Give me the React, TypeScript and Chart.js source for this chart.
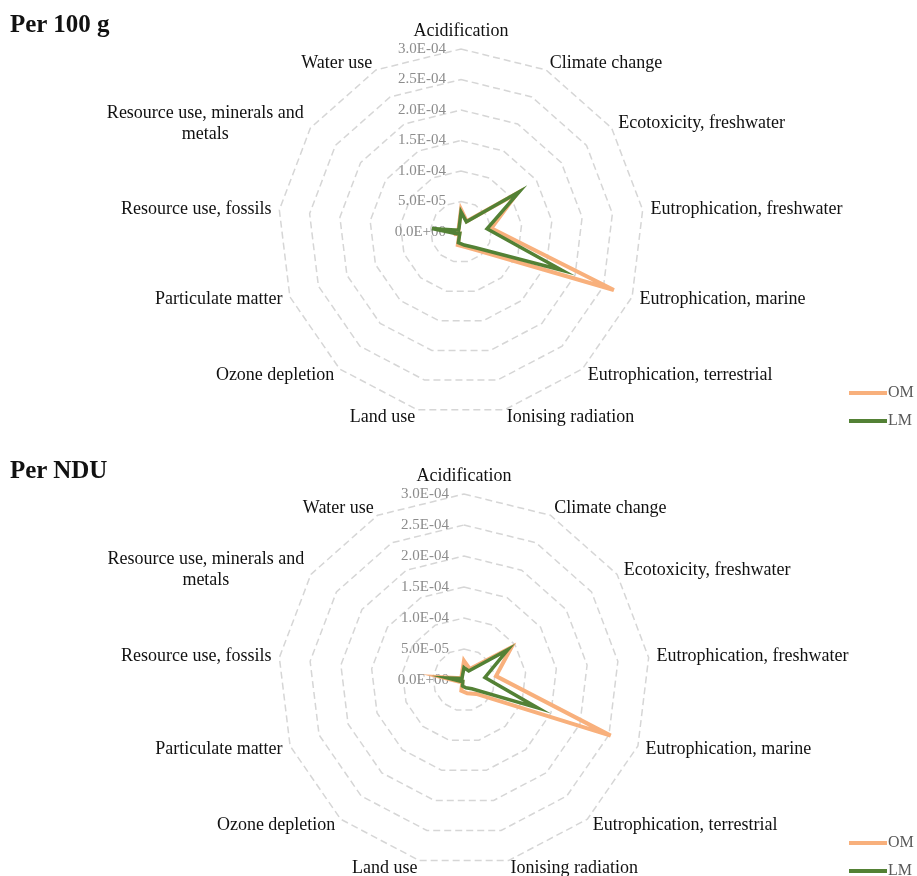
import React, { useEffect, useRef } from 'react';
import { Chart, registerables } from 'chart.js';

Chart.register(...registerables);

// ---- data ----
const categories: (string | string[])[] = [
  'Acidification',
  'Climate change',
  'Ecotoxicity, freshwater',
  'Eutrophication, freshwater',
  'Eutrophication, marine',
  'Eutrophication, terrestrial',
  'Ionising radiation',
  'Land use',
  'Ozone depletion',
  'Particulate matter',
  'Resource use, fossils',
  ['Resource use, minerals and', 'metals'],
  'Water use',
];

const seriesNames = ['OM', 'LM'];

// Per 100 g
const om100g = [3.7e-5, 2.0e-5, 1.12e-4, 5.0e-5, 2.68e-4, 4.0e-5, 2.5e-5, 2.2e-5, 4e-6, 1.0e-5, 1.4e-5, 5e-6, 8e-6];
const lm100g = [3.3e-5, 1.9e-5, 1.16e-4, 4.3e-5, 1.77e-4, 3.4e-5, 2.2e-5, 1.8e-5, 3e-6, 8e-6, 4.8e-5, 5e-6, 7e-6];

// Per NDU
const omNdu = [3.1e-5, 2.0e-5, 9.3e-5, 5.2e-5, 2.53e-4, 3.0e-5, 2.2e-5, 1.8e-5, 4e-6, 8e-6, 3.6e-5, 5e-6, 8e-6];
const lmNdu = [2.0e-5, 1.65e-5, 8.6e-5, 3.4e-5, 1.27e-4, 1.9e-5, 1.3e-5, 1.0e-5, 3e-6, 6e-6, 2.6e-5, 4e-6, 6e-6];

const axisMin = 0;
const axisMax = 3e-4;
const axisStep = 5e-5;

const titles = ['Per 100 g', 'Per NDU'];

const OM_COLOR = '#F8B07C';
const LM_COLOR = '#538135';
const SERIF = '"Liberation Serif", "Times New Roman", serif';

const fmtTick = (v: number) => {
  const [m, e] = Number(v).toExponential(1).split('e');
  const n = parseInt(e, 10);
  return `${m}E${n < 0 ? '-' : '+'}${String(Math.abs(n)).padStart(2, '0')}`;
};

const radarText = {
  id: 'radarText',
  beforeDatasetsDraw(chart: any) {
    const s = chart.scales.r;
    const ctx = chart.ctx;
    ctx.save();
    ctx.font = `15px ${SERIF}`;
    ctx.fillStyle = '#8c8c8c';
    ctx.textAlign = 'right';
    ctx.textBaseline = 'middle';
    s.ticks.forEach((t: any) => {
      const d = s.getDistanceFromCenterForValue(t.value);
      ctx.fillText(t.label, s.xCenter - 15, s.yCenter - d);
    });
    ctx.restore();
  },
  afterDraw(chart: any) {
    const s = chart.scales.r;
    const ctx = chart.ctx;
    const labels = chart.data.labels as (string | string[])[];
    const n = labels.length;
    ctx.save();
    ctx.font = `18px ${SERIF}`;
    ctx.fillStyle = '#111';
    const lh = 21;
    labels.forEach((lab, i) => {
      const p = s.getPointPosition(i, s.drawingArea + 8);
      const lines = Array.isArray(lab) ? lab : [lab];
      const angle = (360 * i) / n;
      if (i === 0) {
        ctx.textAlign = 'center';
        ctx.textBaseline = 'alphabetic';
        ctx.fillText(lines[0], p.x, p.y - 5);
        return;
      }
      const widths = lines.map((l) => ctx.measureText(l).width);
      const bw = Math.max(...widths);
      const cx = angle < 180 ? p.x + bw / 2 : p.x - bw / 2;
      ctx.textAlign = 'center';
      ctx.textBaseline = 'middle';
      lines.forEach((l, j) => {
        const y = p.y + (j - (lines.length - 1) / 2) * lh;
        ctx.fillText(l, cx, y);
      });
    });
    ctx.restore();
  },
};

function makeChart(
  canvas: HTMLCanvasElement,
  om: number[],
  lm: number[],
  padding: { top: number; bottom: number; left: number; right: number }
) {
  return new Chart(canvas, {
    type: 'radar',
    data: {
      labels: categories as any,
      datasets: [
        {
          label: seriesNames[0],
          data: om,
          borderColor: OM_COLOR,
          backgroundColor: 'transparent',
          borderWidth: 4,
          fill: false,
          order: 1,
        },
        {
          label: seriesNames[1],
          data: lm,
          borderColor: LM_COLOR,
          backgroundColor: 'transparent',
          borderWidth: 3.5,
          fill: false,
          order: 0,
        },
      ],
    },
    options: {
      responsive: false,
      animation: false,
      layout: { padding },
      elements: {
        line: { tension: 0, borderJoinStyle: 'miter' },
        point: { radius: 0, hoverRadius: 0 },
      },
      plugins: {
        legend: { display: false },
        tooltip: { enabled: false },
        title: { display: false },
      },
      scales: {
        r: {
          min: axisMin,
          max: axisMax,
          beginAtZero: true,
          ticks: { display: false, stepSize: axisStep, callback: (v: any) => fmtTick(Number(v)) },
          grid: { color: '#d6d6d6', lineWidth: 1.5 },
          border: { dash: [7, 4] },
          angleLines: { display: false },
          pointLabels: { display: false },
        },
      } as any,
    },
    plugins: [radarText],
  } as any);
}

function Legend({ top }: { top: number }) {
  const items = [
    { name: seriesNames[0], color: OM_COLOR },
    { name: seriesNames[1], color: LM_COLOR },
  ];
  return (
    <>
      {items.map((it, i) => (
        <React.Fragment key={it.name}>
          <div
            style={{
              position: 'absolute',
              left: 849,
              top: top + i * 28 - 2,
              width: 38,
              height: 4,
              background: it.color,
            }}
          />
          <div
            style={{
              position: 'absolute',
              left: 888,
              top: top + i * 28 - 9,
              fontSize: 16,
              lineHeight: '16px',
              color: '#595959',
              fontFamily: SERIF,
            }}
          >
            {it.name}
          </div>
        </React.Fragment>
      ))}
    </>
  );
}

export default function App() {
  const topRef = useRef<HTMLCanvasElement>(null);
  const botRef = useRef<HTMLCanvasElement>(null);

  useEffect(() => {
    const c1 = makeChart(topRef.current!, om100g, lm100g, { top: 49, bottom: 25, left: 200, right: 195 });
    const c2 = makeChart(botRef.current!, omNdu, lmNdu, { top: 54, bottom: 10, left: 200, right: 189 });
    return () => {
      c1.destroy();
      c2.destroy();
    };
  }, []);

  const titleStyle: React.CSSProperties = {
    position: 'absolute',
    left: 10,
    fontSize: 25,
    lineHeight: '25px',
    fontWeight: 'bold',
    fontFamily: SERIF,
    color: '#111',
    whiteSpace: 'nowrap',
  };

  return (
    <div
      style={{
        position: 'fixed',
        left: 0,
        top: 0,
        width: 917,
        height: 876,
        background: '#fff',
        overflow: 'hidden',
      }}
    >
      <canvas ref={topRef} width={917} height={440} style={{ position: 'absolute', left: 0, top: 0 }} />
      <canvas ref={botRef} width={917} height={436} style={{ position: 'absolute', left: 0, top: 440 }} />
      <div style={{ ...titleStyle, top: 11 }}>{titles[0]}</div>
      <div style={{ ...titleStyle, top: 457 }}>{titles[1]}</div>
      <Legend top={393} />
      <Legend top={843} />
    </div>
  );
}
